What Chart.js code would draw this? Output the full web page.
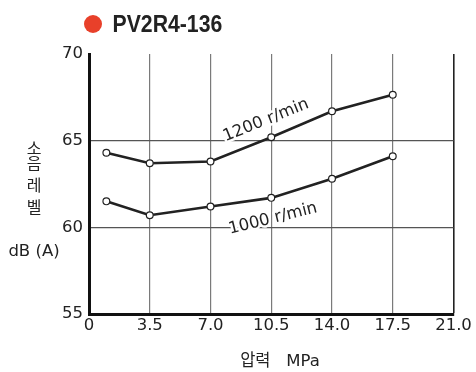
<!DOCTYPE html>
<html>
<head>
<meta charset="utf-8">
<script src="https://cdn.jsdelivr.net/npm/chart.js@4.4.1/dist/chart.umd.min.js"></script>
<style>
	html, body { margin: 0; padding: 0; background: #fff; }
	#wrap { width: 476px; height: 372px; position: relative; }
</style>
</head>
<body>
<div id="wrap"><canvas id="noise" width="476" height="372"></canvas></div>
<script>
/* Data */
var title = "PV2R4-136";
var pressure = [1, 3.5, 7, 10.5, 14, 17.5];
var noise1200 = [64.3, 63.7, 63.8, 65.2, 66.7, 67.65];
var noise1000 = [61.5, 60.7, 61.2, 61.7, 62.8, 64.1];
var seriesLabels = ["1200 r/min", "1000 r/min"];
var yTitle = ["소", "음", "레", "벨"];
var yUnit = "dB (A)";
var xTitle = "압력   MPa";

var tickFont = { family: "DejaVu Sans", size: 16.5 };
var ink = "#222";

function toPoints(ys) {
	return pressure.map(function (x, i) {
		return { x: x, y: ys[i] };
	});
}

/* Titles, labels on lines */
var extras = {
	id: "extras",
	beforeDatasetsDraw: function (chart) {
		var ctx = chart.ctx;
		var xs = chart.scales.x;
		var ys = chart.scales.y;
		ctx.save();
		ctx.font = "16.5px 'DejaVu Sans'";
		ctx.fillStyle = ink;
		ctx.textAlign = "center";
		ctx.textBaseline = "middle";
		ctx.strokeStyle = "#fff";
		ctx.lineWidth = 5;
		ctx.lineJoin = "round";
		// series labels, placed in data coords
		var spots = [
			{ t: seriesLabels[0], x: 10.2, y: 66.17, a: -22 },
			{ t: seriesLabels[1], x: 10.6, y: 60.5, a: -14 },
		];
		spots.forEach(function (s) {
			ctx.save();
			ctx.translate(xs.getPixelForValue(s.x), ys.getPixelForValue(s.y));
			ctx.rotate((s.a * Math.PI) / 180);
			ctx.strokeText(s.t, 0, 0);
			ctx.fillText(s.t, 0, 0);
			ctx.restore();
		});
		ctx.restore();
	},
	afterDraw: function (chart) {
		var ctx = chart.ctx;
		ctx.save();
		// legend dot + title
		ctx.fillStyle = "#e8402a";
		ctx.beginPath();
		ctx.arc(93, 24, 9, 0, Math.PI * 2);
		ctx.fill();
		ctx.fillStyle = ink;
		ctx.font = "bold 24px 'Liberation Sans'";
		ctx.textAlign = "left";
		ctx.textBaseline = "middle";
		ctx.save();
		ctx.translate(112.5, 25);
		ctx.scale(0.885, 1);
		ctx.fillText(title, 0, 0);
		ctx.restore();
		// y title, stacked
		ctx.textAlign = "center";
		ctx.font = "16px 'Noto Sans CJK KR'";
		var ty = [148, 163, 185, 207];
		yTitle.forEach(function (c, i) {
			ctx.fillText(c, 34, ty[i]);
		});
		ctx.font = "16.5px 'DejaVu Sans'";
		ctx.fillText(yUnit, 34, 252);
		ctx.font = "16.5px 'DejaVu Sans', 'Noto Sans CJK KR'";
		ctx.fillText(xTitle, 280, 362);
		ctx.restore();
	},
};

var ctxNoise = document.getElementById("noise");

var noiseChart = new Chart(ctxNoise, {
	type: "line",
	data: {
		datasets: [
			{
				label: seriesLabels[0],
				data: toPoints(noise1200),
			},
			{
				label: seriesLabels[1],
				data: toPoints(noise1000),
			},
		],
	},
	options: {
		responsive: false,
		animation: false,
		layout: { padding: { left: 0, top: 54, right: 22.5, bottom: 0 } },
		elements: {
			line: { borderColor: ink, borderWidth: 2.6, tension: 0 },
			point: {
				radius: 3.4,
				borderWidth: 1.2,
				borderColor: ink,
				backgroundColor: "#fff",
			},
		},
		plugins: {
			legend: { display: false },
			tooltip: { enabled: false },
		},
		scales: {
			x: {
				type: "linear",
				min: 0,
				max: 21,
				afterFit: function (scale) {
					scale.height = 58;
				},
				ticks: {
					stepSize: 3.5,
					color: ink,
					font: tickFont,
					padding: 2,
					maxRotation: 0,
					callback: function (v) {
						return v === 0 ? "0" : v.toFixed(1);
					},
				},
				grid: {
					drawTicks: false,
					color: function (c) {
						return c.tick && c.tick.value === 21 ? "#222" : "#7a7a7a";
					},
					lineWidth: function (c) {
						return c.tick && c.tick.value === 21 ? 1.6 : 1.2;
					},
				},
				border: { color: "#111", width: 3 },
			},
			y: {
				min: 55,
				max: 70,
				afterFit: function (scale) {
					scale.width = 89;
				},
				ticks: {
					stepSize: 5,
					color: ink,
					font: tickFont,
					padding: 6,
				},
				grid: {
					drawTicks: false,
					color: function (c) {
						return c.tick && c.tick.value === 70 ? "rgba(0,0,0,0)" : "#555";
					},
					lineWidth: 1.2,
				},
				border: { color: "#111", width: 3 },
			},
		},
	},
	plugins: [extras],
});
</script>
</body>
</html>
